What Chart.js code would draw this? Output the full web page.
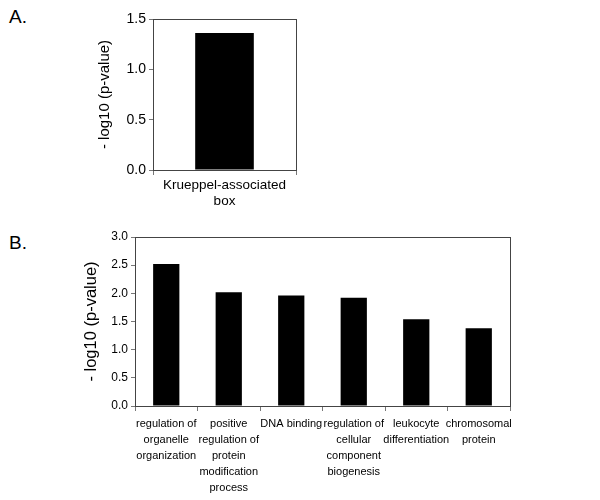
<!DOCTYPE html>
<html>
<head>
<meta charset="utf-8">
<script src="https://cdn.jsdelivr.net/npm/chart.js@4.4.1/dist/chart.umd.min.js"></script>
<style>
  body { margin: 0; background: #fff; width: 600px; height: 500px; position: relative; overflow: hidden; }
  .panel { position: absolute; font-family: "Liberation Sans", Arial, sans-serif; font-size: 19px; color: #000; }
  canvas { position: absolute; }
</style>
</head>
<body>
<div class="panel" style="left:9px; top:6px;">A.</div>
<div class="panel" style="left:9px; top:232px;">B.</div>
<canvas id="chartA" width="218" height="215" style="left:92px; top:0px;"></canvas>
<canvas id="chartB" width="447" height="275" style="left:78px; top:225px;"></canvas>
<script>
// panel A
const labelsA = [['Krueppel-associated', 'box']];
const valuesA = [1.36];
const ticksA = [0, 0.5, 1.0, 1.5];

// panel B
const labelsB = [
    ['regulation of', 'organelle', 'organization'],
    ['positive', 'regulation of', 'protein', 'modification', 'process'],
    ['DNA binding'],
    ['regulation of', 'cellular', 'component', 'biogenesis'],
    ['leukocyte', 'differentiation'],
    ['chromosomal', 'protein']
];
const valuesB = [2.52, 2.02, 1.96, 1.92, 1.54, 1.38];
const ticksB = [0, 0.5, 1.0, 1.5, 2.0, 2.5, 3.0];

const yTitle = '- log10 (p-value)';
const axisColor = '#777';
const font = '"Liberation Sans", Arial, sans-serif';

// box around the plot area
const frame = {
    id: 'frame',
    afterDraw(chart) {
        const a = chart.chartArea;
        const c = chart.ctx;
        c.save();
        c.strokeStyle = '#444';
        c.lineWidth = 1;
        c.strokeRect(Math.round(a.left) + 0.5, Math.round(a.top) + 0.5,
            Math.round(a.right - a.left), Math.round(a.bottom - a.top));
        c.restore();
    }
};

function makeChart(id, labels, values, tickVals, opts) {
    new Chart(document.getElementById(id), {
        type: 'bar',
        data: {
            labels: labels,
            datasets: [{
                data: values,
                backgroundColor: '#000',
                borderWidth: 0,
                barPercentage: opts.barPct,
                categoryPercentage: 1
            }]
        },
        options: {
            responsive: false,
            animation: false,
            layout: { padding: opts.padding },
            plugins: { legend: { display: false }, tooltip: { enabled: false } },
            scales: {
                x: {
                    grid: { offset: true, drawOnChartArea: false, tickLength: 5, color: axisColor },
                    border: { color: axisColor },
                    ticks: {
                        color: '#000',
                        padding: opts.xPad,
                        maxRotation: 0,
                        autoSkip: false,
                        font: { family: font, size: opts.xSize, lineHeight: opts.xLine }
                    },
                    afterFit(scale) { scale.height = opts.xHeight; }
                },
                y: {
                    min: 0,
                    max: tickVals[tickVals.length - 1],
                    afterBuildTicks(scale) { scale.ticks = tickVals.map(v => ({ value: v })); },
                    grid: { drawOnChartArea: false, tickLength: 4, color: axisColor },
                    border: { color: axisColor },
                    ticks: {
                        color: '#000',
                        padding: 3,
                        callback: v => v.toFixed(1),
                        font: { family: font, size: opts.ySize }
                    },
                    title: {
                        display: true,
                        text: yTitle,
                        color: '#000',
                        padding: 4,
                        font: { family: font, size: opts.titleSize }
                    },
                    afterFit(scale) { scale.width = opts.yWidth; }
                }
            }
        },
        plugins: [frame]
    });
}

makeChart('chartA', labelsA, valuesA, ticksA, {
    xSize: 13.5, xLine: 1.22, xPad: 2, xHeight: 45,
    ySize: 14, titleSize: 15, yWidth: 61,
    barPct: 0.41,
    padding: { top: 19, right: 14, left: 0, bottom: 0 }
});

makeChart('chartB', labelsB, valuesB, ticksB, {
    xSize: 11, xLine: 1.45, xPad: 5, xHeight: 94,
    ySize: 12, titleSize: 16.5, yWidth: 57,
    barPct: 0.42,
    padding: { top: 12, right: 15, left: 0, bottom: 0 }
});
</script>
</body>
</html>
